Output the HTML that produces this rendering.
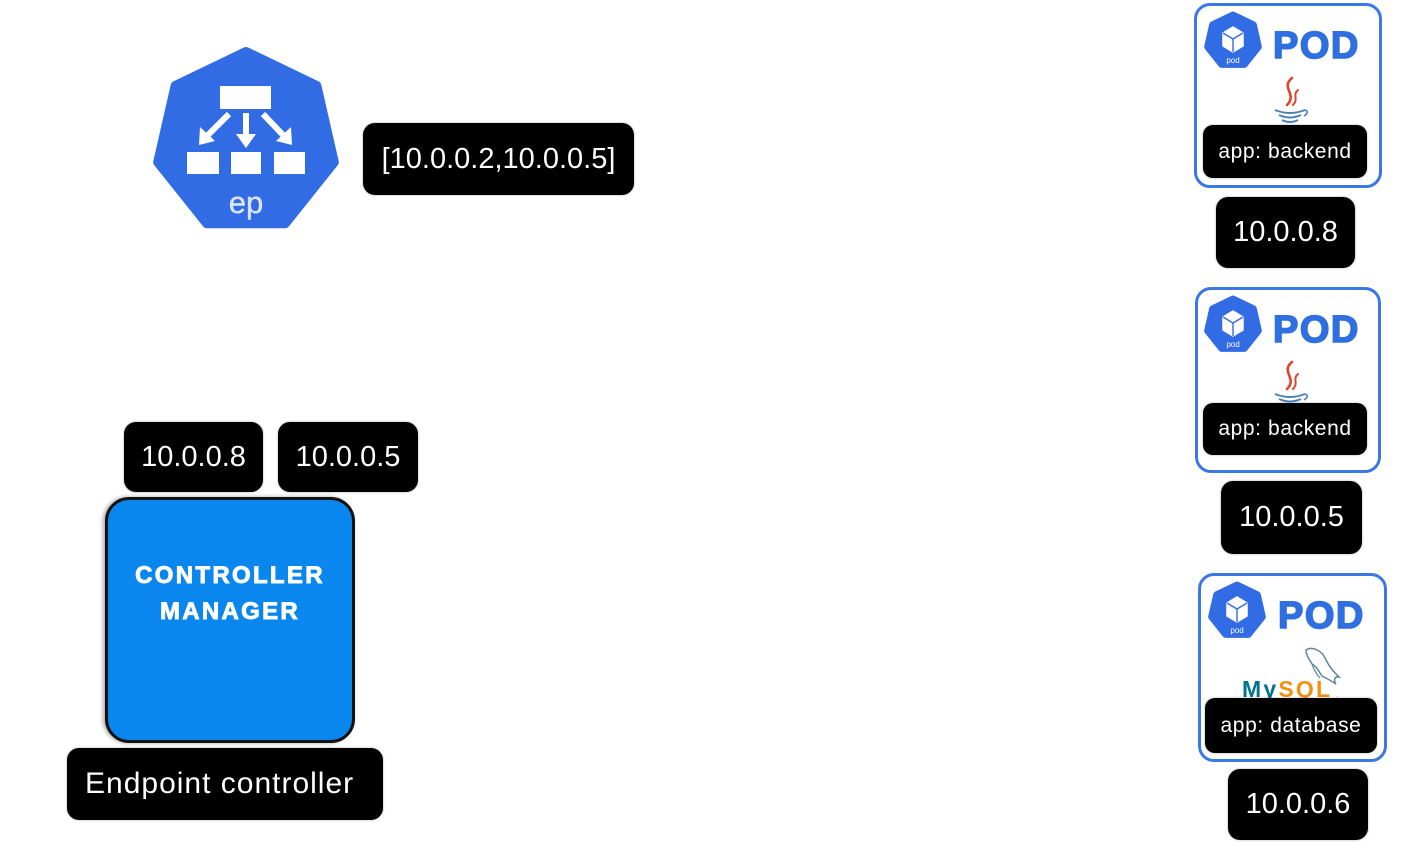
<!DOCTYPE html>
<html>
<head>
<meta charset="utf-8">
<style>
  html,body{margin:0;padding:0;background:#fff;}
  body{width:1410px;height:849px;position:relative;overflow:hidden;font-family:"Liberation Sans",sans-serif;}
  .blk{position:absolute;background:#000;color:#fff;border-radius:12px;display:flex;align-items:center;justify-content:center;white-space:nowrap;box-shadow:0 0 2px rgba(0,0,0,0.35);}
  .ip{font-size:29px;}
  .lbl{font-size:21px;letter-spacing:0.6px;border-radius:10px;}
  .podbox{position:absolute;border:3px solid #3b78e6;border-radius:16px;box-sizing:border-box;background:#fff;}
  .podt{position:absolute;font-weight:bold;font-size:38px;color:#2f6fe0;letter-spacing:1.5px;line-height:1;-webkit-text-stroke:1.6px #2f6fe0;}
  #cm{position:absolute;left:105px;top:497px;width:250px;height:246px;box-sizing:border-box;background:#0a86ef;border:3px solid #111;border-radius:24px;box-shadow:-2px 0 4px rgba(0,0,0,0.35);}
  #cmt{position:absolute;left:0;top:58px;width:100%;text-align:center;color:#fff;font-weight:bold;font-size:24px;letter-spacing:2.3px;line-height:36px;-webkit-text-stroke:0.9px #fff;}
  svg{position:absolute;left:0;top:0;}
</style>
</head>
<body>

<!-- Pod boxes -->
<div class="podbox" style="left:1194px;top:3px;width:188px;height:185px;"></div>
<div class="podbox" style="left:1195px;top:287px;width:186px;height:186px;"></div>
<div class="podbox" style="left:1198px;top:573px;width:189px;height:189px;"></div>

<div class="podt" style="left:1273px;top:27px;">POD</div>
<div class="podt" style="left:1273px;top:311px;">POD</div>
<div class="podt" style="left:1278px;top:597px;">POD</div>

<svg width="1410" height="849" viewBox="0 0 1410 849">
  <defs>
    <g id="podicon">
      <polygon points="0,-26 20.33,-16.21 25.35,5.79 11.28,23.43 -11.28,23.43 -25.35,5.79 -20.33,-16.21" fill="#326ce5" stroke="#326ce5" stroke-width="7" stroke-linejoin="round"/>
      <polygon points="0,-14 10,-8 10,5 0,11 -10,5 -10,-8" fill="#fff" stroke="#fff" stroke-width="1.5" stroke-linejoin="round"/>
      <polyline points="-10,-8 0,-2 10,-8" fill="none" stroke="#326ce5" stroke-width="1.4"/>
      <line x1="0" y1="-2" x2="0" y2="11" stroke="#326ce5" stroke-width="1.4"/>
      <text x="0" y="22" font-family="Liberation Sans, sans-serif" font-size="8" fill="#fff" text-anchor="middle">pod</text>
    </g>
    <g id="java">
      <path d="M2,-28 C-10,-18 8,-12 -3,-1" fill="none" stroke="#e0452b" stroke-width="2.6" stroke-linecap="round"/>
      <path d="M8,-16 C2,-11 9,-7 3,-1" fill="none" stroke="#e0452b" stroke-width="2" stroke-linecap="round"/>
      <path d="M-15,4 Q0,10 15,4" fill="none" stroke="#4a80b8" stroke-width="2"/>
      <path d="M15,4 Q20,6 14,10" fill="none" stroke="#4a80b8" stroke-width="1.6"/>
      <path d="M-11,9 Q0,14 11,9" fill="none" stroke="#4a80b8" stroke-width="2"/>
      <path d="M-8,14 Q0,18 8,14" fill="none" stroke="#4a80b8" stroke-width="2"/>
    </g>
  </defs>

  <!-- EP heptagon -->
  <polygon points="246,52 316.4,85.9 333.8,162.1 285.0,223.2 207.0,223.2 158.2,162.1 175.6,85.9" fill="#326ce5" stroke="#326ce5" stroke-width="10" stroke-linejoin="round"/>
  <rect x="220" y="86" width="51" height="23" fill="#fff"/>
  <rect x="187" y="152" width="32" height="22" fill="#fff"/>
  <rect x="231" y="152" width="30" height="22" fill="#fff"/>
  <rect x="274" y="152" width="31" height="22" fill="#fff"/>
  <!-- arrows -->
  <line x1="246" y1="113" x2="246" y2="137" stroke="#fff" stroke-width="6"/>
  <polygon points="236,134 256,134 246,148" fill="#fff"/>
  <line x1="229" y1="114" x2="208" y2="135" stroke="#fff" stroke-width="6"/>
  <polygon points="200,127 215,141 199,145" fill="#fff"/>
  <line x1="263" y1="114" x2="283" y2="135" stroke="#fff" stroke-width="6"/>
  <polygon points="276,141 291,127 292,145" fill="#fff"/>
  <text x="246" y="213" font-family="Liberation Sans, sans-serif" font-size="31" fill="#dbe5fb" stroke="#dbe5fb" stroke-width="0.4" text-anchor="middle">ep</text>

  <!-- pod icons -->
  <use href="#podicon" x="1233" y="41"/>
  <use href="#podicon" x="1233" y="325"/>
  <use href="#podicon" x="1237" y="611"/>

  <!-- java icons -->
  <use href="#java" x="1290" y="106"/>
  <use href="#java" x="1290" y="390"/>

  <!-- MySQL -->
  <path d="M1306,650 C1312,646 1322,650 1326,660 C1330,668 1334,672 1339,677 C1335,676 1333,680 1336,684 C1330,680 1326,678 1322,676 C1318,670 1316,666 1312,664 C1310,660 1306,656 1306,650 Z" fill="none" stroke="#5d87a1" stroke-width="1.5"/>
  <path d="M1312,664 C1314,670 1316,674 1320,678" fill="none" stroke="#5d87a1" stroke-width="1.2"/>
  <text x="1242" y="697" font-family="Liberation Sans, sans-serif" font-weight="bold" font-size="23" letter-spacing="2.2"><tspan fill="#00758f">My</tspan><tspan fill="#f29111">SQL</tspan></text>
  <text x="1336" y="697" font-family="Liberation Sans, sans-serif" font-size="6" fill="#f29111">.</text>
</svg>

<!-- Pod labels -->
<div class="blk lbl" style="left:1203px;top:125px;width:164px;height:53px;">app: backend</div>
<div class="blk lbl" style="left:1203px;top:403px;width:164px;height:52px;">app: backend</div>
<div class="blk lbl" style="left:1205px;top:698px;width:172px;height:55px;">app: database</div>

<!-- Pod IPs -->
<div class="blk ip" style="left:1216px;top:197px;width:139px;height:71px;">10.0.0.8</div>
<div class="blk ip" style="left:1221px;top:481px;width:141px;height:73px;">10.0.0.5</div>
<div class="blk ip" style="left:1228px;top:769px;width:140px;height:71px;">10.0.0.6</div>

<!-- EP list -->
<div class="blk ip" style="left:363px;top:123px;width:271px;height:72px;">[10.0.0.2,10.0.0.5]</div>

<!-- Controller -->
<div class="blk ip" style="left:124px;top:422px;width:139px;height:70px;">10.0.0.8</div>
<div class="blk ip" style="left:278px;top:422px;width:140px;height:70px;">10.0.0.5</div>

<div id="cm"><div id="cmt">CONTROLLER<br>MANAGER</div></div>

<div class="blk" style="left:67px;top:748px;width:316px;height:72px;justify-content:flex-start;padding-left:18px;box-sizing:border-box;font-size:30px;letter-spacing:1px;">Endpoint controller</div>

</body>
</html>
